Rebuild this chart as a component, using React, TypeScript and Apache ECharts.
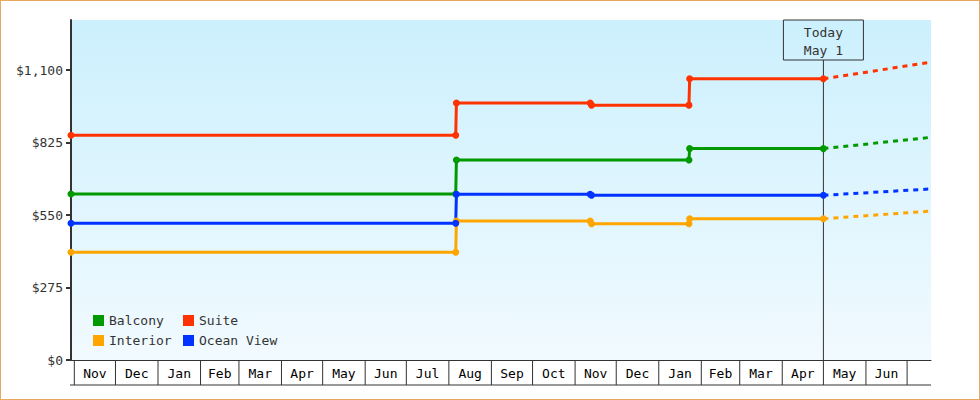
import React, { useEffect, useRef } from "react";
import * as echarts from "echarts";

// ---- data ----
const X_START = "2013-10-29T14:00";
const X_END = "2015-07-18T10:00";
const TODAY = "2015-05-01T00:00";
const TODAY_LABEL = ["Today", "May 1"];

const MONTH_STARTS = [
  "2013-11-01", "2013-12-01", "2014-01-01", "2014-02-01", "2014-03-01", "2014-04-01",
  "2014-05-01", "2014-06-01", "2014-07-01", "2014-08-01", "2014-09-01", "2014-10-01",
  "2014-11-01", "2014-12-01", "2015-01-01", "2015-02-01", "2015-03-01", "2015-04-01",
  "2015-05-01", "2015-06-01", "2015-07-01",
];
const MONTH_LABELS = [
  "Nov", "Dec", "Jan", "Feb", "Mar", "Apr", "May", "Jun", "Jul", "Aug", "Sep", "Oct",
  "Nov", "Dec", "Jan", "Feb", "Mar", "Apr", "May", "Jun",
];

const Y_TICKS = [0, 275, 550, 825, 1100];
const Y_MAX = 1290;

const LEGEND_LEFT = ["Balcony", "Interior"];
const LEGEND_RIGHT = ["Suite", "Ocean View"];

const BALCONY: [string, number][] = [
  [X_START, 630], ["2014-08-06T00:00", 630], ["2014-08-06T12:00", 759],
  ["2015-01-23T00:00", 759], ["2015-01-23T12:00", 802], [TODAY, 802],
];
const SUITE: [string, number][] = [
  [X_START, 853], ["2014-08-06T00:00", 853], ["2014-08-06T12:00", 975],
  ["2014-11-12T00:00", 975], ["2014-11-13T00:00", 967],
  ["2015-01-23T00:00", 967], ["2015-01-23T12:00", 1067], [TODAY, 1067],
];
const INTERIOR: [string, number][] = [
  [X_START, 409], ["2014-08-06T00:00", 409], ["2014-08-06T12:00", 527],
  ["2014-11-12T00:00", 527], ["2014-11-13T00:00", 517],
  ["2015-01-23T00:00", 517], ["2015-01-23T12:00", 536], [TODAY, 536],
];
const OCEAN_VIEW: [string, number][] = [
  [X_START, 519], ["2014-08-06T00:00", 519], ["2014-08-06T12:00", 629],
  ["2014-11-12T00:00", 629], ["2014-11-13T00:00", 625], [TODAY, 625],
];

const BALCONY_FORECAST: [string, number][] = [[TODAY, 802], [X_END, 845]];
const SUITE_FORECAST: [string, number][] = [[TODAY, 1067], [X_END, 1130]];
const INTERIOR_FORECAST: [string, number][] = [[TODAY, 536], [X_END, 565]];
const OCEAN_VIEW_FORECAST: [string, number][] = [[TODAY, 625], [X_END, 649]];

// ---- helpers / styles ----
const t = (s: string) => new Date(s.length === 10 ? s + "T00:00" : s).getTime();
const pts = (arr: [string, number][]) => arr.map(([d, v]) => [t(d), v]);

const FONT = '"DejaVu Sans Mono", monospace';
const COLORS: Record<string, string> = {
  Balcony: "#009900",
  Suite: "#ff3300",
  Interior: "#ffa500",
  "Ocean View": "#0033ff",
};

export default function App() {
  const ref = useRef<HTMLDivElement>(null);

  useEffect(() => {
    if (!ref.current) return;
    const chart = echarts.init(ref.current, null, { renderer: "svg" });
    const monthTs = MONTH_STARTS.map(t);
    const todayTs = t(TODAY);

    const lineSeries = (name: string, data: [string, number][]) => ({
      name,
      type: "line",
      data: pts(data),
      symbol: "circle",
      symbolSize: 7,
      showSymbol: true,
      showAllSymbol: true,
      itemStyle: { color: COLORS[name] },
      lineStyle: { color: COLORS[name], width: 3 },
      emphasis: { disabled: true },
      z: 3,
    });
    const forecastSeries = (name: string, data: [string, number][]) => ({
      name: name + " forecast",
      type: "line",
      data: pts(data),
      symbol: "none",
      itemStyle: { color: COLORS[name] },
      lineStyle: { color: COLORS[name], width: 3, type: [5, 5] },
      emphasis: { disabled: true },
      z: 3,
    });

    const legendBase = {
      orient: "vertical",
      top: 313.5,
      padding: 0,
      itemWidth: 11,
      itemHeight: 11,
      itemGap: 6,
      icon: "rect",
      selectedMode: false,
      textStyle: { fontFamily: FONT, fontSize: 13, color: "#333", lineHeight: 14 },
    };

    chart.setOption({
      animation: false,
      backgroundColor: "#ffffff",
      grid: {
        left: 71,
        right: 49,
        top: 20,
        bottom: 40,
        show: true,
        borderWidth: 0,
        backgroundColor: new echarts.graphic.LinearGradient(0, 0, 0, 1, [
          { offset: 0, color: "#ccf0fd" },
          { offset: 1, color: "#f1faff" },
        ]),
      },
      legend: [
        { ...legendBase, left: 93, data: LEGEND_LEFT },
        { ...legendBase, left: 183, data: LEGEND_RIGHT },
      ],
      xAxis: {
        type: "time",
        min: t(X_START),
        max: t(X_END),
        axisLine: { show: true, lineStyle: { color: "#333", width: 1 } },
        axisTick: { show: false },
        axisLabel: { show: false },
        splitLine: { show: false },
      },
      yAxis: {
        type: "value",
        min: 0,
        max: Y_MAX,
        axisLine: { show: true, lineStyle: { color: "#333", width: 2 } },
        axisTick: {
          show: true,
          length: 5,
          lineStyle: { color: "#333", width: 2 },
          customValues: Y_TICKS,
        },
        axisLabel: {
          customValues: Y_TICKS,
          margin: 8,
          color: "#333",
          fontFamily: FONT,
          fontSize: 13,
          formatter: (v: number) => "$" + v.toLocaleString("en-US"),
        },
        splitLine: { show: false },
      },
      series: [
        {
          name: "months",
          type: "custom",
          silent: true,
          clip: false,
          data: monthTs.map((ts) => [ts, 0]),
          renderItem: (params: any, api: any) => {
            const i = params.dataIndex;
            const cs = params.coordSys;
            const yb = cs.y + cs.height;
            const x0 = api.coord([api.value(0), 0])[0];
            const children: any[] = [
              {
                type: "line",
                shape: { x1: x0, y1: yb, x2: x0, y2: yb + 25 },
                style: { stroke: "#333", lineWidth: 1 },
              },
            ];
            if (i < MONTH_LABELS.length) {
              const x1 = api.coord([monthTs[i + 1], 0])[0];
              children.push({
                type: "text",
                x: (x0 + x1) / 2,
                y: yb + 13,
                style: {
                  text: MONTH_LABELS[i],
                  fill: "#000",
                  font: "13px " + FONT,
                  align: "center",
                  verticalAlign: "middle",
                },
              });
            }
            if (i === 0) {
              children.push({
                type: "line",
                shape: { x1: cs.x - 1, y1: yb + 25, x2: cs.x + cs.width, y2: yb + 25 },
                style: { stroke: "#333", lineWidth: 1 },
              });
            }
            return { type: "group", children };
          },
          z: 1,
        },
        {
          name: "today",
          type: "custom",
          silent: true,
          clip: false,
          data: [[todayTs, 0]],
          renderItem: (params: any, api: any) => {
            const cs = params.coordSys;
            const x = api.coord([api.value(0), 0])[0];
            return {
              type: "group",
              children: [
                {
                  type: "rect",
                  shape: { x: x - 40, y: cs.y, width: 80, height: 40 },
                  style: { fill: "none", stroke: "#333", lineWidth: 1 },
                },
                {
                  type: "text",
                  x,
                  y: cs.y + 12.5,
                  style: {
                    text: TODAY_LABEL[0],
                    fill: "#333",
                    font: "13px " + FONT,
                    align: "center",
                    verticalAlign: "middle",
                  },
                },
                {
                  type: "text",
                  x,
                  y: cs.y + 30,
                  style: {
                    text: TODAY_LABEL[1],
                    fill: "#333",
                    font: "13px " + FONT,
                    align: "center",
                    verticalAlign: "middle",
                  },
                },
                {
                  type: "line",
                  shape: { x1: x, y1: cs.y + 40, x2: x, y2: cs.y + cs.height },
                  style: { stroke: "#333", lineWidth: 1 },
                },
              ],
            };
          },
          z: 1,
        },
        forecastSeries("Interior", INTERIOR_FORECAST),
        forecastSeries("Balcony", BALCONY_FORECAST),
        forecastSeries("Suite", SUITE_FORECAST),
        forecastSeries("Ocean View", OCEAN_VIEW_FORECAST),
        lineSeries("Interior", INTERIOR),
        lineSeries("Balcony", BALCONY),
        lineSeries("Suite", SUITE),
        lineSeries("Ocean View", OCEAN_VIEW),
      ],
    });

    return () => chart.dispose();
  }, []);

  return (
    <div style={{ position: "absolute", left: 0, top: 0, width: 980, height: 400 }}>
      <div ref={ref} style={{ position: "absolute", left: 0, top: 0, width: 980, height: 400 }} />
      <div
        style={{
          position: "absolute",
          left: 0,
          top: 0,
          width: 980,
          height: 400,
          boxSizing: "border-box",
          border: "1px solid #e8a860",
          pointerEvents: "none",
        }}
      />
    </div>
  );
}
